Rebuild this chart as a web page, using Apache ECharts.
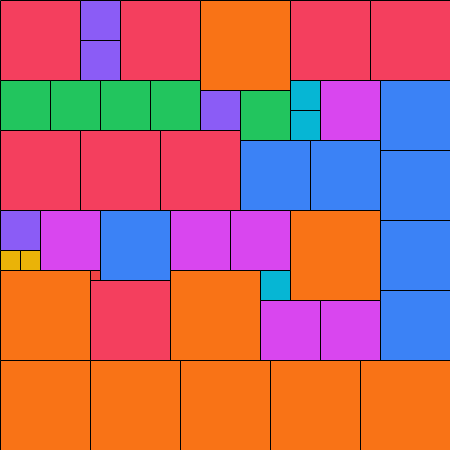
<!DOCTYPE html>
<html>
<head>
<meta charset="utf-8">
<script src="https://cdn.jsdelivr.net/npm/echarts@6/dist/echarts.min.js"></script>
<style>html,body{margin:0;padding:0;background:#fff}#c{width:450px;height:450px}</style>
</head>
<body>
<div id="c"></div>
<script>
// Square packing: left, top, side length (in chart units)
const sqX    = [0, 80, 80, 120, 200, 290, 370,
                0, 50, 100, 150, 200, 240, 290, 290, 320, 380, 380, 380, 380,
                0, 80, 160, 240, 310,
                0, 0, 20, 40, 100, 170, 230, 290,
                90, 0, 90, 170, 260, 260, 320,
                0, 90, 180, 270, 360];
const sqY    = [0, 0, 40, 0, 0, 0, 0,
                80, 80, 80, 80, 90, 90, 80, 110, 80, 80, 150, 220, 290,
                130, 130, 130, 140, 140,
                210, 250, 250, 210, 210, 210, 210, 210,
                270, 270, 280, 270, 270, 300, 300,
                360, 360, 360, 360, 360];
const sqSize = [80, 40, 40, 80, 90, 80, 80,
                50, 50, 50, 50, 40, 50, 30, 30, 60, 70, 70, 70, 70,
                80, 80, 80, 70, 70,
                40, 20, 20, 60, 70, 60, 60, 90,
                10, 90, 80, 90, 30, 60, 60,
                90, 90, 90, 90, 90];
const sizeKeys   = [10, 20, 30, 40, 50, 60, 70, 80, 90];
const sizeColors = ['#ef4444', '#eab308', '#06b6d4', '#8b5cf6', '#22c55e', '#d946ef', '#3b82f6', '#f43f5e', '#f97316'];

const data = sqX.map((x, i) => [x, sqY[i], sqSize[i]]);

const chart = echarts.init(document.getElementById('c'), null, {renderer: 'canvas'});
chart.setOption({
  animation: false,
  grid: {left: 0, right: 0, top: 0, bottom: 0},
  xAxis: {type: 'value', min: 0, max: 450, show: false},
  yAxis: {type: 'value', min: 0, max: 450, inverse: true, show: false},
  series: [{
    type: 'custom',
    coordinateSystem: 'cartesian2d',
    encode: {x: 0, y: 1},
    data: data,
    renderItem: function (params, api) {
      const x = api.value(0), y = api.value(1), s = api.value(2);
      const p0 = api.coord([x, y]);
      const p1 = api.coord([x + s, y + s]);
      return {
        type: 'rect',
        shape: {x: p0[0] + 0.5, y: p0[1] + 0.5, width: p1[0] - p0[0], height: p1[1] - p0[1]},
        style: {fill: sizeColors[sizeKeys.indexOf(s)], stroke: '#000', lineWidth: 1}
      };
    }
  }]
});
</script>
</body>
</html>
